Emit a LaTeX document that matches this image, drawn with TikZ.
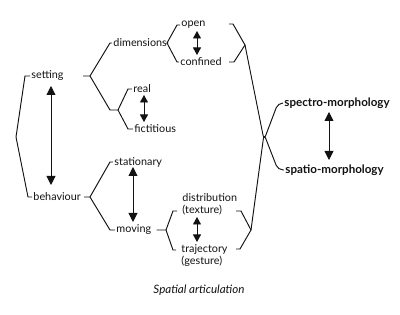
\documentclass[tikz,border=0pt]{standalone}
\usepackage{fontspec}
\setmainfont{Lato}
\usetikzlibrary{arrows.meta,positioning}
\definecolor{InkBlack}{RGB}{18,18,18}

\begin{document}
\begin{tikzpicture}[x=1pt,y=-1pt,line width=0.95pt,draw=InkBlack,
  term/.style={font=\fontsize{10.8}{12.5}\selectfont,text=InkBlack,inner sep=1pt,anchor=west},
  twoline/.style={term,align=left,font=\fontsize{10.8}{12.5}\selectfont},
  morph/.style={term,font=\fontsize{11.6}{13}\selectfont\bfseries},
  twin/.style={{Triangle[width=9pt,length=9pt]}-{Triangle[width=9pt,length=9pt]}},
  twinsmall/.style={{Triangle[width=8pt,length=7.5pt]}-{Triangle[width=8pt,length=7.5pt]}}]
  \useasboundingbox (0,0) rectangle (400,315);
  % Terms
  \node[term] (setting) at (30,76) {setting};
  \node[term] (behaviour) at (32,197) {behaviour};
  \node[term] (dimensions) at (112,43) {dimensions};
  \node[term] (real) at (132,89) {real};
  \node[term] (fictitious) at (133,129) {fictitious};
  \node[term] (open) at (180,25) {open};
  \node[term] (confined) at (179,62) {confined};
  \node[term] (stationary) at (113,162) {stationary};
  \node[term] (moving) at (115,230) {moving};
  \node[twoline] (distribution) at (181,204.5) {distribution\\(texture)};
  \node[twoline] (trajectory) at (180,255.5) {trajectory\\(gesture)};
  \node[morph] (spectro) at (283,103) {spectro-morphology};
  \node[morph] (spatio) at (284,170) {spatio-morphology};
  \node[font=\fontsize{11.6}{13}\selectfont\itshape,text=InkBlack] (caption) at (199,290) {Spatial articulation};
  % Forks
  \coordinate (settingfork) at (90,76);
  \coordinate (realfork) at (118,110);
  \coordinate (dimfork) at (167,43);
  \coordinate (behfork) at (90,197);
  \coordinate (movfork) at (166,230);
  \coordinate (texturetip) at (177,211);
  \coordinate (trajtip) at (176,250);
  % Left bracket
  \draw (setting.west) -- (25,76) -- (16,137) -- (28,197) -- (behaviour.west);
  % Setting
  \draw (83,76) -- (settingfork) -- (110,43) -- (dimensions.west);
  \draw (settingfork) -- (110,110) -- (realfork);
  \draw (realfork) -- (128,89) -- (real.west);
  \draw (realfork) -- (128,129) -- (fictitious.west);
  \draw (dimensions.east) -- (dimfork) -- (177,25) -- (open.west);
  \draw (dimfork) -- (177,62) -- (confined.west);
  % Behaviour
  \draw (behaviour.east) ++(2,0) -- (behfork) -- (110,162) -- (stationary.west);
  \draw (behfork) -- (110,230) -- (moving.west);
  \draw (moving.east) ++(4,0) -- (movfork) -- (173,211) -- (texturetip);
  \draw (movfork) -- (173,250) -- (trajtip);
  % Right brackets
  \coordinate (openbr) at (245,45);
  \coordinate (distbr) at (251,230);
  \draw (229,24) -- (233,24) -- (openbr) -- (234,62) -- (229,62);
  \draw (236,211) -- (241,211) -- (distbr) -- (240,249) -- (236,249);
  % Cross
  \draw[rounded corners=5pt] (openbr) -- (264,140) -- (278,103) -- (spectro.west);
  \draw[rounded corners=5pt] (distbr) -- (264,134) -- (278,170) -- (spatio.west);
  % Arrows
  \draw[twin] (51,86) -- (51,185);
  \draw[twinsmall] (144,95) -- (144,122);
  \draw[twinsmall] (197,31) -- (197,55);
  \draw[twin] (133,167) -- (133,222);
  \draw[twinsmall] (197,217) -- (197,242);
  \draw[twin] (329,112) -- (329,160);
\end{tikzpicture}
\end{document}
